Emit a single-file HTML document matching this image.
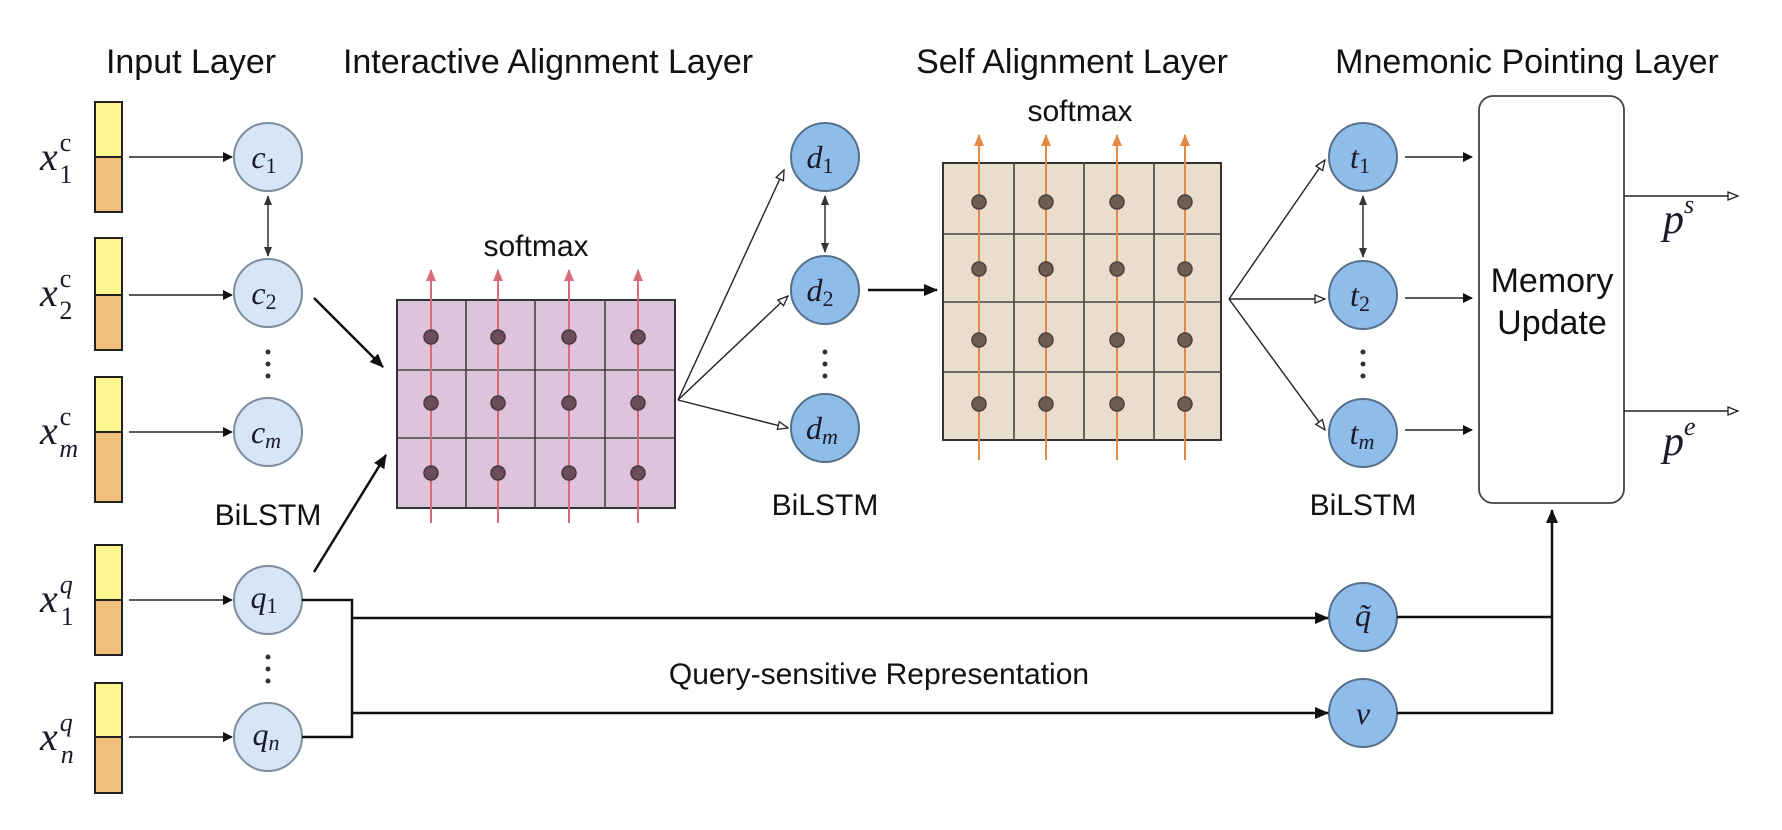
<!DOCTYPE html>
<html><head><meta charset="utf-8"><style>
html,body{margin:0;padding:0;background:#fff;}
svg{display:block;}
.h{font-family:"Liberation Sans",sans-serif;font-size:34px;fill:#111;}
.s{font-family:"Liberation Sans",sans-serif;font-size:30px;fill:#111;}
.m{font-family:"Liberation Serif",serif;font-style:italic;fill:#1a1a2a;}
</style></head><body>
<svg width="1782" height="830" viewBox="0 0 1782 830" xmlns="http://www.w3.org/2000/svg">
<defs>
<marker id="a" markerWidth="10" markerHeight="10" refX="9" refY="5" orient="auto" markerUnits="userSpaceOnUse"><path d="M0,0 L10,5 L0,10 z" fill="#111"/></marker>
<marker id="ab" markerWidth="14" markerHeight="14" refX="13" refY="7" orient="auto" markerUnits="userSpaceOnUse"><path d="M0,1 L14,7 L0,13 z" fill="#111"/></marker>
<marker id="as" markerWidth="10" markerHeight="10" refX="9" refY="5" orient="auto-start-reverse" markerUnits="userSpaceOnUse"><path d="M0,1 L10,5 L0,9 z" fill="#333"/></marker>
<marker id="o" markerWidth="12" markerHeight="10" refX="11" refY="5" orient="auto" markerUnits="userSpaceOnUse"><path d="M1,1 L11,5 L1,9 z" fill="#fff" stroke="#222" stroke-width="1.3"/></marker>
<marker id="r" markerWidth="12" markerHeight="12" refX="6" refY="1" orient="0" markerUnits="userSpaceOnUse"><path d="M1,12 L6,0 L11,12 z" fill="#d66a78"/></marker>
<marker id="or" markerWidth="12" markerHeight="12" refX="6" refY="1" orient="0" markerUnits="userSpaceOnUse"><path d="M1,12 L6,0 L11,12 z" fill="#e08a45"/></marker>
</defs>

<!-- headers -->
<text class="h" x="191" y="73" text-anchor="middle">Input Layer</text>
<text class="h" x="548" y="73" text-anchor="middle">Interactive Alignment Layer</text>
<text class="h" x="1072" y="73" text-anchor="middle">Self Alignment Layer</text>
<text class="h" x="1527" y="73" text-anchor="middle">Mnemonic Pointing Layer</text>

<!-- input vectors -->
<g stroke="#222" stroke-width="2">
<rect x="95" y="102" width="27" height="55" fill="#fdf68f"/><rect x="95" y="157" width="27" height="55" fill="#f0bf7e"/>
<rect x="95" y="238" width="27" height="57" fill="#fdf68f"/><rect x="95" y="295" width="27" height="55" fill="#f0bf7e"/>
<rect x="95" y="377" width="27" height="55" fill="#fdf68f"/><rect x="95" y="432" width="27" height="70" fill="#f0bf7e"/>
<rect x="95" y="545" width="27" height="55" fill="#fdf68f"/><rect x="95" y="600" width="27" height="55" fill="#f0bf7e"/>
<rect x="95" y="683" width="27" height="54" fill="#fdf68f"/><rect x="95" y="737" width="27" height="56" fill="#f0bf7e"/>
</g>
<g class="m" font-size="40">
<text x="40" y="170">x<tspan font-size="26" dx="2" dy="-19" font-style="normal">c</tspan><tspan font-size="26" dx="-12" dy="32" font-style="normal">1</tspan></text>
<text x="40" y="306">x<tspan font-size="26" dx="2" dy="-19" font-style="normal">c</tspan><tspan font-size="26" dx="-12" dy="32" font-style="normal">2</tspan></text>
<text x="40" y="444">x<tspan font-size="26" dx="2" dy="-19" font-style="normal">c</tspan><tspan font-size="26" dx="-12" dy="32">m</tspan></text>
<text x="40" y="612">x<tspan font-size="26" dx="2" dy="-19">q</tspan><tspan font-size="26" dx="-12" dy="32" font-style="normal">1</tspan></text>
<text x="40" y="750">x<tspan font-size="26" dx="2" dy="-19">q</tspan><tspan font-size="26" dx="-12" dy="32">n</tspan></text>
</g>
<g stroke="#222" stroke-width="1.6" marker-end="url(#a)">
<line x1="129" y1="157" x2="232" y2="157"/><line x1="129" y1="295" x2="232" y2="295"/>
<line x1="129" y1="432" x2="232" y2="432"/><line x1="129" y1="600" x2="232" y2="600"/>
<line x1="129" y1="737" x2="232" y2="737"/>
</g>

<!-- c/q circles -->
<g fill="#d6e6f6" stroke="#7d8d9c" stroke-width="2">
<circle cx="268" cy="157" r="34"/><circle cx="268" cy="293" r="34"/><circle cx="268" cy="432" r="34"/>
<circle cx="268" cy="600" r="34"/><circle cx="268" cy="737" r="34"/>
</g>
<g class="m" font-size="32" text-anchor="middle">
<text x="264" y="168">c<tspan font-size="22" font-style="normal" dy="5">1</tspan></text>
<text x="264" y="304">c<tspan font-size="22" font-style="normal" dy="5">2</tspan></text>
<text x="266" y="443">c<tspan font-size="22" dy="5">m</tspan></text>
<text x="264" y="608">q<tspan font-size="22" font-style="normal" dy="5">1</tspan></text>
<text x="266" y="745">q<tspan font-size="22" dy="5">n</tspan></text>
</g>
<line x1="268" y1="196" x2="268" y2="256" stroke="#555" stroke-width="1.8" marker-start="url(#as)" marker-end="url(#as)"/>
<g fill="#333"><circle cx="268" cy="352" r="2.5"/><circle cx="268" cy="364" r="2.5"/><circle cx="268" cy="376" r="2.5"/>
<circle cx="268" cy="657" r="2.5"/><circle cx="268" cy="669" r="2.5"/><circle cx="268" cy="681" r="2.5"/></g>
<text class="s" x="268" y="525" text-anchor="middle">BiLSTM</text>

<!-- arrows to grid1 -->
<line x1="314" y1="298" x2="383" y2="367" stroke="#111" stroke-width="2.5" marker-end="url(#ab)"/>
<line x1="314" y1="572" x2="386" y2="455" stroke="#111" stroke-width="2.5" marker-end="url(#ab)"/>

<!-- grid1 -->
<rect x="397" y="300" width="278" height="208" fill="#dcc4dd" stroke="#333" stroke-width="2"/>
<g stroke="#444" stroke-width="1.6">
<line x1="466" y1="300" x2="466" y2="508"/><line x1="535" y1="300" x2="535" y2="508"/><line x1="605" y1="300" x2="605" y2="508"/>
<line x1="397" y1="370" x2="675" y2="370"/><line x1="397" y1="438" x2="675" y2="438"/>
</g>
<g stroke="#d66a78" stroke-width="2" marker-end="url(#r)">
<line x1="431" y1="523" x2="431" y2="270"/><line x1="498" y1="523" x2="498" y2="270"/>
<line x1="569" y1="523" x2="569" y2="270"/><line x1="638" y1="523" x2="638" y2="270"/>
</g>
<g fill="#6b4d5a" stroke="#4a3840" stroke-width="1.5">
<circle cx="431" cy="337" r="7"/><circle cx="498" cy="337" r="7"/><circle cx="569" cy="337" r="7"/><circle cx="638" cy="337" r="7"/>
<circle cx="431" cy="403" r="7"/><circle cx="498" cy="403" r="7"/><circle cx="569" cy="403" r="7"/><circle cx="638" cy="403" r="7"/>
<circle cx="431" cy="473" r="7"/><circle cx="498" cy="473" r="7"/><circle cx="569" cy="473" r="7"/><circle cx="638" cy="473" r="7"/>
</g>
<text class="s" x="536" y="256" text-anchor="middle">softmax</text>

<!-- fan to d -->
<g stroke="#222" stroke-width="1.4" marker-end="url(#o)">
<line x1="678" y1="400" x2="784" y2="170"/><line x1="678" y1="400" x2="788" y2="296"/><line x1="678" y1="400" x2="788" y2="428"/>
</g>
<g fill="#8fbdea" stroke="#56708a" stroke-width="2">
<circle cx="825" cy="157" r="34"/><circle cx="825" cy="290" r="34"/><circle cx="825" cy="428" r="34"/>
</g>
<g class="m" font-size="32" text-anchor="middle">
<text x="820" y="168">d<tspan font-size="22" font-style="normal" dy="5">1</tspan></text>
<text x="820" y="301">d<tspan font-size="22" font-style="normal" dy="5">2</tspan></text>
<text x="822" y="439">d<tspan font-size="22" dy="5">m</tspan></text>
</g>
<line x1="825" y1="196" x2="825" y2="252" stroke="#555" stroke-width="1.8" marker-start="url(#as)" marker-end="url(#as)"/>
<g fill="#333"><circle cx="825" cy="352" r="2.5"/><circle cx="825" cy="364" r="2.5"/><circle cx="825" cy="376" r="2.5"/></g>
<text class="s" x="825" y="515" text-anchor="middle">BiLSTM</text>
<line x1="868" y1="290" x2="937" y2="290" stroke="#111" stroke-width="2.5" marker-end="url(#ab)"/>

<!-- grid2 -->
<rect x="943" y="163" width="278" height="277" fill="#e9ddcd" stroke="#333" stroke-width="2"/>
<g stroke="#444" stroke-width="1.6">
<line x1="1014" y1="163" x2="1014" y2="440"/><line x1="1084" y1="163" x2="1084" y2="440"/><line x1="1154" y1="163" x2="1154" y2="440"/>
<line x1="943" y1="234" x2="1221" y2="234"/><line x1="943" y1="302" x2="1221" y2="302"/><line x1="943" y1="372" x2="1221" y2="372"/>
</g>
<g stroke="#e08a45" stroke-width="2" marker-end="url(#or)">
<line x1="979" y1="460" x2="979" y2="135"/><line x1="1046" y1="460" x2="1046" y2="135"/>
<line x1="1117" y1="460" x2="1117" y2="135"/><line x1="1185" y1="460" x2="1185" y2="135"/>
</g>
<g fill="#6e5e52" stroke="#4c4038" stroke-width="1.5">
<circle cx="979" cy="202" r="7"/><circle cx="1046" cy="202" r="7"/><circle cx="1117" cy="202" r="7"/><circle cx="1185" cy="202" r="7"/>
<circle cx="979" cy="269" r="7"/><circle cx="1046" cy="269" r="7"/><circle cx="1117" cy="269" r="7"/><circle cx="1185" cy="269" r="7"/>
<circle cx="979" cy="340" r="7"/><circle cx="1046" cy="340" r="7"/><circle cx="1117" cy="340" r="7"/><circle cx="1185" cy="340" r="7"/>
<circle cx="979" cy="404" r="7"/><circle cx="1046" cy="404" r="7"/><circle cx="1117" cy="404" r="7"/><circle cx="1185" cy="404" r="7"/>
</g>
<text class="s" x="1080" y="121" text-anchor="middle">softmax</text>

<!-- fan to t -->
<g stroke="#222" stroke-width="1.4" marker-end="url(#o)">
<line x1="1229" y1="299" x2="1325" y2="160"/><line x1="1229" y1="299" x2="1325" y2="299"/><line x1="1229" y1="299" x2="1325" y2="430"/>
</g>
<g fill="#8fbdea" stroke="#56708a" stroke-width="2">
<circle cx="1363" cy="157" r="34"/><circle cx="1363" cy="295" r="34"/><circle cx="1363" cy="433" r="34"/>
<circle cx="1363" cy="617" r="34"/><circle cx="1363" cy="713" r="34"/>
</g>
<g class="m" font-size="32" text-anchor="middle">
<text x="1360" y="168">t<tspan font-size="22" font-style="normal" dy="5">1</tspan></text>
<text x="1360" y="306">t<tspan font-size="22" font-style="normal" dy="5">2</tspan></text>
<text x="1362" y="444">t<tspan font-size="22" dy="5">m</tspan></text>
<text x="1363" y="626">q̃</text>
<text x="1363" y="724">v</text>
</g>
<line x1="1363" y1="196" x2="1363" y2="257" stroke="#555" stroke-width="1.8" marker-start="url(#as)" marker-end="url(#as)"/>
<g fill="#333"><circle cx="1363" cy="352" r="2.5"/><circle cx="1363" cy="364" r="2.5"/><circle cx="1363" cy="376" r="2.5"/></g>
<text class="s" x="1363" y="515" text-anchor="middle">BiLSTM</text>
<g stroke="#222" stroke-width="1.6" marker-end="url(#a)">
<line x1="1405" y1="157" x2="1472" y2="157"/><line x1="1405" y1="298" x2="1472" y2="298"/><line x1="1405" y1="430" x2="1472" y2="430"/>
</g>

<!-- memory box -->
<rect x="1479" y="96" width="145" height="407" rx="14" fill="#fff" stroke="#444" stroke-width="1.8"/>
<text class="h" x="1552" y="292" text-anchor="middle" font-size="33">Memory</text>
<text class="h" x="1552" y="334" text-anchor="middle" font-size="33">Update</text>
<g stroke="#222" stroke-width="1.6" marker-end="url(#o)">
<line x1="1624" y1="196" x2="1738" y2="196"/><line x1="1624" y1="411" x2="1738" y2="411"/>
</g>
<text class="m" x="1663" y="233" font-size="42">p<tspan font-size="26" dy="-20">s</tspan></text>
<text class="m" x="1663" y="455" font-size="42">p<tspan font-size="26" dy="-20">e</tspan></text>

<!-- query paths -->
<g stroke="#111" stroke-width="2.5" fill="none">
<polyline points="302,600 352,600 352,737 302,737"/>
<line x1="352" y1="618" x2="1328" y2="618" marker-end="url(#ab)"/>
<line x1="352" y1="713" x2="1328" y2="713" marker-end="url(#ab)"/>
<polyline points="1397,617 1552,617"/>
<polyline points="1397,713 1552,713 1552,510" marker-end="url(#ab)"/>
</g>
<text class="s" x="879" y="684" text-anchor="middle" font-size="33">Query-sensitive Representation</text>
</svg>
</body></html>
